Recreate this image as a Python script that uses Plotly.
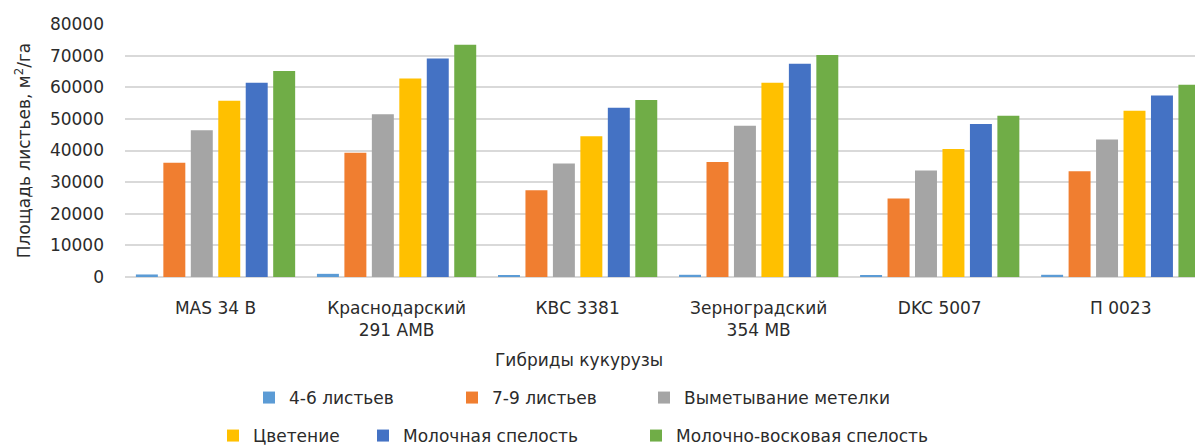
import plotly.graph_objects as go

categories = ["MAS 34 B", "Краснодарский<br>291 AMB", "КВС 3381",
              "Зерноградский<br>354 MB", "DKC 5007", "П 0023"]
series_names = ["4-6 листьев", "7-9 листьев", "Выметывание метелки",
                "Цветение", "Молочная спелость", "Молочно-восковая спелость"]
v_4_6 = [800, 1000, 500, 700, 500, 700]
v_7_9 = [36100, 39300, 27400, 36400, 24800, 33400]
v_vymet = [46400, 51500, 35900, 47800, 33700, 43500]
v_tsvet = [55700, 62800, 44500, 61400, 40500, 52600]
v_moloch = [61400, 69100, 53500, 67400, 48400, 57400]
v_mvosk = [65100, 73400, 56000, 70200, 51000, 60800]
values = [v_4_6, v_7_9, v_vymet, v_tsvet, v_moloch, v_mvosk]
y_ticks = [0, 10000, 20000, 30000, 40000, 50000, 60000, 70000, 80000]

colors = ["#5B9BD5", "#F07E30", "#A5A5A5", "#FFC000", "#4472C4", "#70AD47"]

W, H = 1195, 447
ML, MR, MT, MB = 125, 0, 24, 170
FONT = "DejaVu Sans"
TXT = "#2b2b2b"

# legend marker centre positions (px) and row y (px)
leg_x = [271, 474, 666, 235, 385, 658]
leg_y = [398, 398, 398, 436, 436, 436]
ph = H - MT - MB
pw = W - ML - MR

fig = go.Figure()
for i, (name, vals) in enumerate(zip(series_names, values)):
    lname = "legend" if i == 0 else f"legend{i+1}"
    fig.add_trace(go.Bar(
        x=categories, y=vals, name=name,
        marker=dict(color=colors[i], line=dict(width=0)),
        legend=lname, cliponaxis=True,
    ))

legends = {}
for i in range(6):
    lname = "legend" if i == 0 else f"legend{i+1}"
    legends[lname] = dict(
        x=(leg_x[i] - 22 - ML) / pw, xref="paper", xanchor="left",
        y=(H - MB - leg_y[i]) / ph, yref="paper", yanchor="middle",
        orientation="h", bgcolor="rgba(0,0,0,0)",
        font=dict(family=FONT, size=17, color=TXT),
        itemwidth=30,
    )

fig.update_layout(
    width=W, height=H,
    margin=dict(l=ML, r=MR, t=MT, b=MB, pad=0, autoexpand=False),
    paper_bgcolor="white", plot_bgcolor="white",
    barmode="group", bargap=0.09, bargroupgap=0.2,
    showlegend=True,
    font=dict(family=FONT, size=17, color=TXT),
    xaxis=dict(
        type="category", range=[-0.5, 5.41],
        showgrid=False, showline=False, ticks="",
        tickfont=dict(family=FONT, size=17, color=TXT),
        ticklabelstandoff=19,
    ),
    yaxis=dict(
        range=[0, 80000], tickvals=y_ticks, ticktext=[str(t) for t in y_ticks],
        showgrid=True, gridcolor="#D9D9D9", gridwidth=1.5,
        zeroline=True, zerolinecolor="#D9D9D9", zerolinewidth=1.5,
        showline=False, ticks="",
        tickfont=dict(family=FONT, size=17, color=TXT),
        ticklabelstandoff=20,
        title=dict(text="Площадь листьев, м<sup>2</sup>/га",
                   font=dict(family=FONT, size=17, color=TXT), standoff=14),
    ),
    annotations=[dict(
        text="Гибриды кукурузы", xref="paper", yref="paper",
        x=(579 - ML) / pw, y=(H - MB - 360) / ph,
        xanchor="center", yanchor="middle", showarrow=False,
        font=dict(family=FONT, size=17, color=TXT),
    )],
    **legends,
)

fig.write_html("out.html")
